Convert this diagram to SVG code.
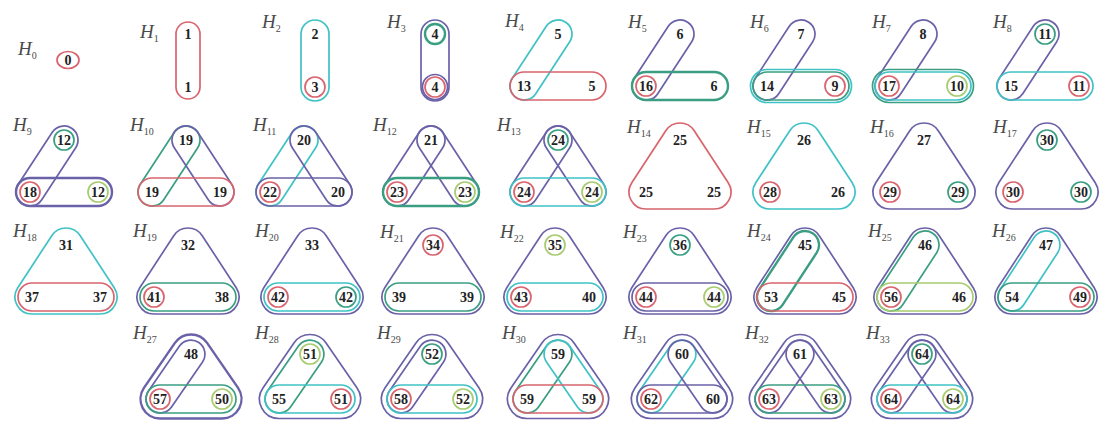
<svg xmlns="http://www.w3.org/2000/svg" width="1101" height="421" viewBox="0 0 1101 421">
<style>
.e{fill:none;stroke-width:1.7}
.w{stroke-width:2.4}
.r{stroke:#d9646e}.c{stroke:#3fc2c6}.p{stroke:#6a62a8}.g{stroke:#3a9e82}.y{stroke:#a8cb70}
.n{font-family:"Liberation Serif",serif;font-weight:bold;font-size:14px;text-anchor:middle;fill:#222}
.l{font-family:"Liberation Serif",serif;font-style:italic;font-size:19px;fill:#4a4a4a}
.s{font-style:normal;font-size:10px}
</style>
<defs>
<path id="V" d="M-12,0 L-12,53 A12,12 0 0 0 12,53 L12,0 A12,12 0 0 0 -12,0Z"/>
<path id="V2" d="M-14,0 L-14,53 A14,14 0 0 0 14,53 L14,0 A14,14 0 0 0 -14,0Z"/>
<path id="T1" d="M14.23,-9.30 L48.23,42.70 A17,17 0 0 1 34,69 L-34,69 A17,17 0 0 1 -48.23,42.70 L-14.23,-9.30 A17,17 0 0 1 14.23,-9.30Z"/>
<path id="T2" d="M16.32,-10.67 L50.32,41.33 A19.5,19.5 0 0 1 34,71.5 L-34,71.5 A19.5,19.5 0 0 1 -50.32,41.33 L-16.32,-10.67 A19.5,19.5 0 0 1 16.32,-10.67Z"/>
<path id="L1" d="M11.72,7.66 L-22.28,59.66 A14,14 0 0 1 -45.72,44.34 L-11.72,-7.66 A14,14 0 0 1 11.72,7.66Z"/>
<path id="R1" d="M11.72,-7.66 L45.72,44.34 A14,14 0 0 1 22.28,59.66 L-11.72,7.66 A14,14 0 0 1 11.72,-7.66Z"/>
<path id="B1" d="M-34,38 L34,38 A14,14 0 0 1 34,66 L-34,66 A14,14 0 0 1 -34,38Z"/>
<path id="B2" d="M-34,35.5 L34,35.5 A16.5,16.5 0 0 1 34,68.5 L-34,68.5 A16.5,16.5 0 0 1 -34,35.5Z"/>
<circle id="cA" cx="0" cy="0" r="10"/>
<circle id="cL" cx="-34" cy="52" r="10"/>
<circle id="cL2" cx="-34" cy="52" r="12.5"/>
<circle id="cR" cx="34" cy="52" r="10"/>
<circle id="cB" cx="0" cy="53" r="10"/>
<circle id="cB2" cx="0" cy="53" r="12.5"/>
<path id="t4" d="M14.00,-9.64 L45.00,35.36 A17,17 0 0 1 31,62 L-31,62 A17,17 0 0 1 -45.00,35.36 L-14.00,-9.64 A17,17 0 0 1 14.00,-9.64Z"/>
<path id="T4" d="M16.06,-11.06 L47.06,33.94 A19.5,19.5 0 0 1 31,64.5 L-31,64.5 A19.5,19.5 0 0 1 -47.06,33.94 L-16.06,-11.06 A19.5,19.5 0 0 1 16.06,-11.06Z"/>
<path id="l4" d="M11.53,7.94 L-19.47,52.94 A14,14 0 0 1 -42.53,37.06 L-11.53,-7.94 A14,14 0 0 1 11.53,7.94Z"/>
<path id="r4" d="M11.53,-7.94 L42.53,37.06 A14,14 0 0 1 19.47,52.94 L-11.53,7.94 A14,14 0 0 1 11.53,-7.94Z"/>
<path id="b4" d="M-31,31 L31,31 A14,14 0 0 1 31,59 L-31,59 A14,14 0 0 1 -31,31Z"/>
<circle id="cl4" cx="-31" cy="45" r="10"/>
<circle id="cr4" cx="31" cy="45" r="10"/>
</defs>
<rect width="1101" height="421" fill="#fff"/>

<!-- Row 1 -->
<g id="H0"><text class="l" x="18" y="55">H<tspan class="s" dy="4">0</tspan></text>
<ellipse class="e r" cx="68" cy="60" rx="11" ry="8.5"/><text class="n" x="68" y="64.5">0</text></g>

<g id="H1"><text class="l" x="140" y="38">H<tspan class="s" dy="4">1</tspan></text>
<g transform="translate(188,34)"><use href="#V" class="e r"/>
<text class="n" x="0" y="5">1</text><text class="n" x="0" y="58">1</text></g></g>

<g id="H2"><text class="l" x="262" y="28">H<tspan class="s" dy="4">2</tspan></text>
<g transform="translate(315,34)"><use href="#V2" class="e c"/><use href="#cB" class="e r"/>
<text class="n" x="0" y="5">2</text><text class="n" x="0" y="58">3</text></g></g>

<g id="H3"><text class="l" x="387" y="28">H<tspan class="s" dy="4">3</tspan></text>
<g transform="translate(435,34)"><use href="#V2" class="e p"/><use href="#cA" class="e g w"/><use href="#cB" class="e r"/><use href="#cB2" class="e p"/>
<text class="n" x="0" y="5">4</text><text class="n" x="0" y="58">4</text></g></g>

<g id="H4"><text class="l" x="505" y="27">H<tspan class="s" dy="4">4</tspan></text>
<g transform="translate(558,34)"><use href="#L1" class="e c"/><use href="#B1" class="e r"/>
<text class="n" x="0" y="5">5</text><text class="n" x="-34" y="57">13</text><text class="n" x="34" y="57">5</text></g></g>

<g id="H5"><text class="l" x="628" y="28">H<tspan class="s" dy="4">5</tspan></text>
<g transform="translate(680,34)"><use href="#L1" class="e p"/><use href="#B1" class="e g w"/><use href="#cL" class="e r"/>
<text class="n" x="0" y="5">6</text><text class="n" x="-34" y="57">16</text><text class="n" x="34" y="57">6</text></g></g>

<g id="H6"><text class="l" x="750" y="28">H<tspan class="s" dy="4">6</tspan></text>
<g transform="translate(801,34)"><use href="#L1" class="e p"/><use href="#B1" class="e g"/><use href="#B2" class="e c"/><use href="#cR" class="e r"/>
<text class="n" x="0" y="5">7</text><text class="n" x="-34" y="57">14</text><text class="n" x="34" y="57">9</text></g></g>

<g id="H7"><text class="l" x="872" y="28">H<tspan class="s" dy="4">7</tspan></text>
<g transform="translate(923,34)"><use href="#L1" class="e p"/><use href="#B1" class="e c"/><use href="#B2" class="e g"/><use href="#cL" class="e r"/><use href="#cR" class="e y"/>
<text class="n" x="0" y="5">8</text><text class="n" x="-34" y="57">17</text><text class="n" x="34" y="57">10</text></g></g>

<g id="H8"><text class="l" x="993" y="28">H<tspan class="s" dy="4">8</tspan></text>
<g transform="translate(1045,34)"><use href="#L1" class="e p"/><use href="#B1" class="e c"/><use href="#cA" class="e g"/><use href="#cR" class="e r"/>
<text class="n" x="0" y="5">11</text><text class="n" x="-34" y="57">15</text><text class="n" x="34" y="57">11</text></g></g>

<!-- Row 2 -->
<g id="H9"><text class="l" x="13" y="131">H<tspan class="s" dy="4">9</tspan></text>
<g transform="translate(64,140)"><use href="#L1" class="e p"/><use href="#B1" class="e p w"/><use href="#cA" class="e g"/><use href="#cL" class="e r"/><use href="#cR" class="e y"/>
<text class="n" x="0" y="5">12</text><text class="n" x="-34" y="57">18</text><text class="n" x="34" y="57">12</text></g></g>

<g id="H10"><text class="l" x="130" y="131">H<tspan class="s" dy="4">10</tspan></text>
<g transform="translate(186,140)"><use href="#L1" class="e g"/><use href="#R1" class="e p"/><use href="#B1" class="e r"/>
<text class="n" x="0" y="5">19</text><text class="n" x="-34" y="57">19</text><text class="n" x="34" y="57">19</text></g></g>

<g id="H11"><text class="l" x="253" y="131">H<tspan class="s" dy="4">11</tspan></text>
<g transform="translate(304,140)"><use href="#L1" class="e c"/><use href="#R1" class="e p"/><use href="#B1" class="e p"/><use href="#cL" class="e r"/>
<text class="n" x="0" y="5">20</text><text class="n" x="-34" y="57">22</text><text class="n" x="34" y="57">20</text></g></g>

<g id="H12"><text class="l" x="373" y="131">H<tspan class="s" dy="4">12</tspan></text>
<g transform="translate(431,140)"><use href="#L1" class="e p"/><use href="#R1" class="e p"/><use href="#B1" class="e g w"/><use href="#cL" class="e r"/><use href="#cR" class="e y"/>
<text class="n" x="0" y="5">21</text><text class="n" x="-34" y="57">23</text><text class="n" x="34" y="57">23</text></g></g>

<g id="H13"><text class="l" x="497" y="131">H<tspan class="s" dy="4">13</tspan></text>
<g transform="translate(558,140)"><use href="#L1" class="e p"/><use href="#R1" class="e p"/><use href="#B1" class="e c"/><use href="#cA" class="e g"/><use href="#cL" class="e r"/><use href="#cR" class="e y"/>
<text class="n" x="0" y="5">24</text><text class="n" x="-34" y="57">24</text><text class="n" x="34" y="57">24</text></g></g>

<g id="H14"><text class="l" x="627" y="133">H<tspan class="s" dy="4">14</tspan></text>
<g transform="translate(680,140)"><use href="#T1" class="e r"/>
<text class="n" x="0" y="5">25</text><text class="n" x="-34" y="57">25</text><text class="n" x="34" y="57">25</text></g></g>

<g id="H15"><text class="l" x="747" y="133">H<tspan class="s" dy="4">15</tspan></text>
<g transform="translate(804,140)"><use href="#T1" class="e c"/><use href="#cL" class="e r"/>
<text class="n" x="0" y="5">26</text><text class="n" x="-34" y="57">28</text><text class="n" x="34" y="57">26</text></g></g>

<g id="H16"><text class="l" x="870" y="133">H<tspan class="s" dy="4">16</tspan></text>
<g transform="translate(924,140)"><use href="#T1" class="e p"/><use href="#cL" class="e r"/><use href="#cR" class="e g"/>
<text class="n" x="0" y="5">27</text><text class="n" x="-34" y="57">29</text><text class="n" x="34" y="57">29</text></g></g>

<g id="H17"><text class="l" x="993" y="133">H<tspan class="s" dy="4">17</tspan></text>
<g transform="translate(1047,140)"><use href="#T1" class="e p"/><use href="#cA" class="e g"/><use href="#cL" class="e r"/><use href="#cR" class="e g"/>
<text class="n" x="0" y="5">30</text><text class="n" x="-34" y="57">30</text><text class="n" x="34" y="57">30</text></g></g>

<!-- Row 3 -->
<g id="H18"><text class="l" x="13" y="237">H<tspan class="s" dy="4">18</tspan></text>
<g transform="translate(66,245)"><use href="#T1" class="e c"/><use href="#B1" class="e r"/>
<text class="n" x="0" y="5">31</text><text class="n" x="-34" y="57">37</text><text class="n" x="34" y="57">37</text></g></g>

<g id="H19"><text class="l" x="133" y="237">H<tspan class="s" dy="4">19</tspan></text>
<g transform="translate(188,245)"><use href="#T1" class="e p"/><use href="#B1" class="e g"/><use href="#cL" class="e r"/>
<text class="n" x="0" y="5">32</text><text class="n" x="-34" y="57">41</text><text class="n" x="34" y="57">38</text></g></g>

<g id="H20"><text class="l" x="255" y="237">H<tspan class="s" dy="4">20</tspan></text>
<g transform="translate(312,245)"><use href="#T1" class="e p"/><use href="#B1" class="e c"/><use href="#cL" class="e r"/><use href="#cR" class="e g"/>
<text class="n" x="0" y="5">33</text><text class="n" x="-34" y="57">42</text><text class="n" x="34" y="57">42</text></g></g>

<g id="H21"><text class="l" x="380" y="238">H<tspan class="s" dy="4">21</tspan></text>
<g transform="translate(433,245)"><use href="#T1" class="e p"/><use href="#cA" class="e r"/><use href="#B1" class="e g"/>
<text class="n" x="0" y="5">34</text><text class="n" x="-34" y="57">39</text><text class="n" x="34" y="57">39</text></g></g>

<g id="H22"><text class="l" x="500" y="238">H<tspan class="s" dy="4">22</tspan></text>
<g transform="translate(555,245)"><use href="#T1" class="e p"/><use href="#cA" class="e y"/><use href="#B1" class="e c"/><use href="#cL" class="e r"/>
<text class="n" x="0" y="5">35</text><text class="n" x="-34" y="57">43</text><text class="n" x="34" y="57">40</text></g></g>

<g id="H23"><text class="l" x="623" y="238">H<tspan class="s" dy="4">23</tspan></text>
<g transform="translate(680,245)"><use href="#T1" class="e p"/><use href="#cA" class="e g"/><use href="#B1" class="e p"/><use href="#cL" class="e r"/><use href="#cR" class="e y"/>
<text class="n" x="0" y="5">36</text><text class="n" x="-34" y="57">44</text><text class="n" x="34" y="57">44</text></g></g>

<g id="H24"><text class="l" x="747" y="237">H<tspan class="s" dy="4">24</tspan></text>
<g transform="translate(805,245)"><use href="#T1" class="e p"/><use href="#L1" class="e g w"/><use href="#B1" class="e r"/>
<text class="n" x="0" y="5">45</text><text class="n" x="-34" y="57">53</text><text class="n" x="34" y="57">45</text></g></g>

<g id="H25"><text class="l" x="868" y="237">H<tspan class="s" dy="4">25</tspan></text>
<g transform="translate(925,245)"><use href="#T1" class="e p"/><use href="#L1" class="e g"/><use href="#B1" class="e y"/><use href="#cL" class="e r"/>
<text class="n" x="0" y="5">46</text><text class="n" x="-34" y="57">56</text><text class="n" x="34" y="57">46</text></g></g>

<g id="H26"><text class="l" x="992" y="237">H<tspan class="s" dy="4">26</tspan></text>
<g transform="translate(1046,245)"><use href="#T1" class="e p"/><use href="#L1" class="e c"/><use href="#B1" class="e g"/><use href="#cR" class="e r"/>
<text class="n" x="0" y="5">47</text><text class="n" x="-34" y="57">54</text><text class="n" x="34" y="57">49</text></g></g>

<!-- Row 4 -->
<g id="H27"><text class="l" x="133" y="339">H<tspan class="s" dy="4">27</tspan></text>
<g transform="translate(191,354)"><use href="#T4" class="e p w"/><use href="#l4" class="e p"/><use href="#b4" class="e g"/><use href="#cl4" class="e r"/><use href="#cr4" class="e y"/>
<text class="n" x="0" y="5">48</text><text class="n" x="-31" y="50">57</text><text class="n" x="31" y="50">50</text></g></g>

<g id="H28"><text class="l" x="255" y="339">H<tspan class="s" dy="4">28</tspan></text>
<g transform="translate(310,354)"><use href="#T4" class="e p"/><use href="#l4" class="e g"/><use href="#b4" class="e c"/><use href="#cA" class="e y"/><use href="#cr4" class="e r"/>
<text class="n" x="0" y="5">51</text><text class="n" x="-31" y="50">55</text><text class="n" x="31" y="50">51</text></g></g>

<g id="H29"><text class="l" x="377" y="339">H<tspan class="s" dy="4">29</tspan></text>
<g transform="translate(432,354)"><use href="#T4" class="e p"/><use href="#l4" class="e p"/><use href="#b4" class="e c"/><use href="#cA" class="e g"/><use href="#cl4" class="e r"/><use href="#cr4" class="e y"/>
<text class="n" x="0" y="5">52</text><text class="n" x="-31" y="50">58</text><text class="n" x="31" y="50">52</text></g></g>

<g id="H30"><text class="l" x="502" y="339">H<tspan class="s" dy="4">30</tspan></text>
<g transform="translate(558,354)"><use href="#T4" class="e p"/><use href="#l4" class="e g"/><use href="#r4" class="e c"/><use href="#b4" class="e r"/>
<text class="n" x="0" y="5">59</text><text class="n" x="-31" y="50">59</text><text class="n" x="31" y="50">59</text></g></g>

<g id="H31"><text class="l" x="623" y="339">H<tspan class="s" dy="4">31</tspan></text>
<g transform="translate(682,354)"><use href="#T4" class="e p"/><use href="#l4" class="e c"/><use href="#r4" class="e p"/><use href="#b4" class="e p"/><use href="#cl4" class="e r"/>
<text class="n" x="0" y="5">60</text><text class="n" x="-31" y="50">62</text><text class="n" x="31" y="50">60</text></g></g>

<g id="H32"><text class="l" x="745" y="339">H<tspan class="s" dy="4">32</tspan></text>
<g transform="translate(800,354)"><use href="#T4" class="e p"/><use href="#l4" class="e p"/><use href="#r4" class="e p"/><use href="#b4" class="e g"/><use href="#cl4" class="e r"/><use href="#cr4" class="e y"/>
<text class="n" x="0" y="5">61</text><text class="n" x="-31" y="50">63</text><text class="n" x="31" y="50">63</text></g></g>

<g id="H33"><text class="l" x="866" y="339">H<tspan class="s" dy="4">33</tspan></text>
<g transform="translate(922,354)"><use href="#T4" class="e p"/><use href="#l4" class="e p"/><use href="#r4" class="e p"/><use href="#b4" class="e c"/><use href="#cA" class="e g"/><use href="#cl4" class="e r"/><use href="#cr4" class="e y"/>
<text class="n" x="0" y="5">64</text><text class="n" x="-31" y="50">64</text><text class="n" x="31" y="50">64</text></g></g>
</svg>
